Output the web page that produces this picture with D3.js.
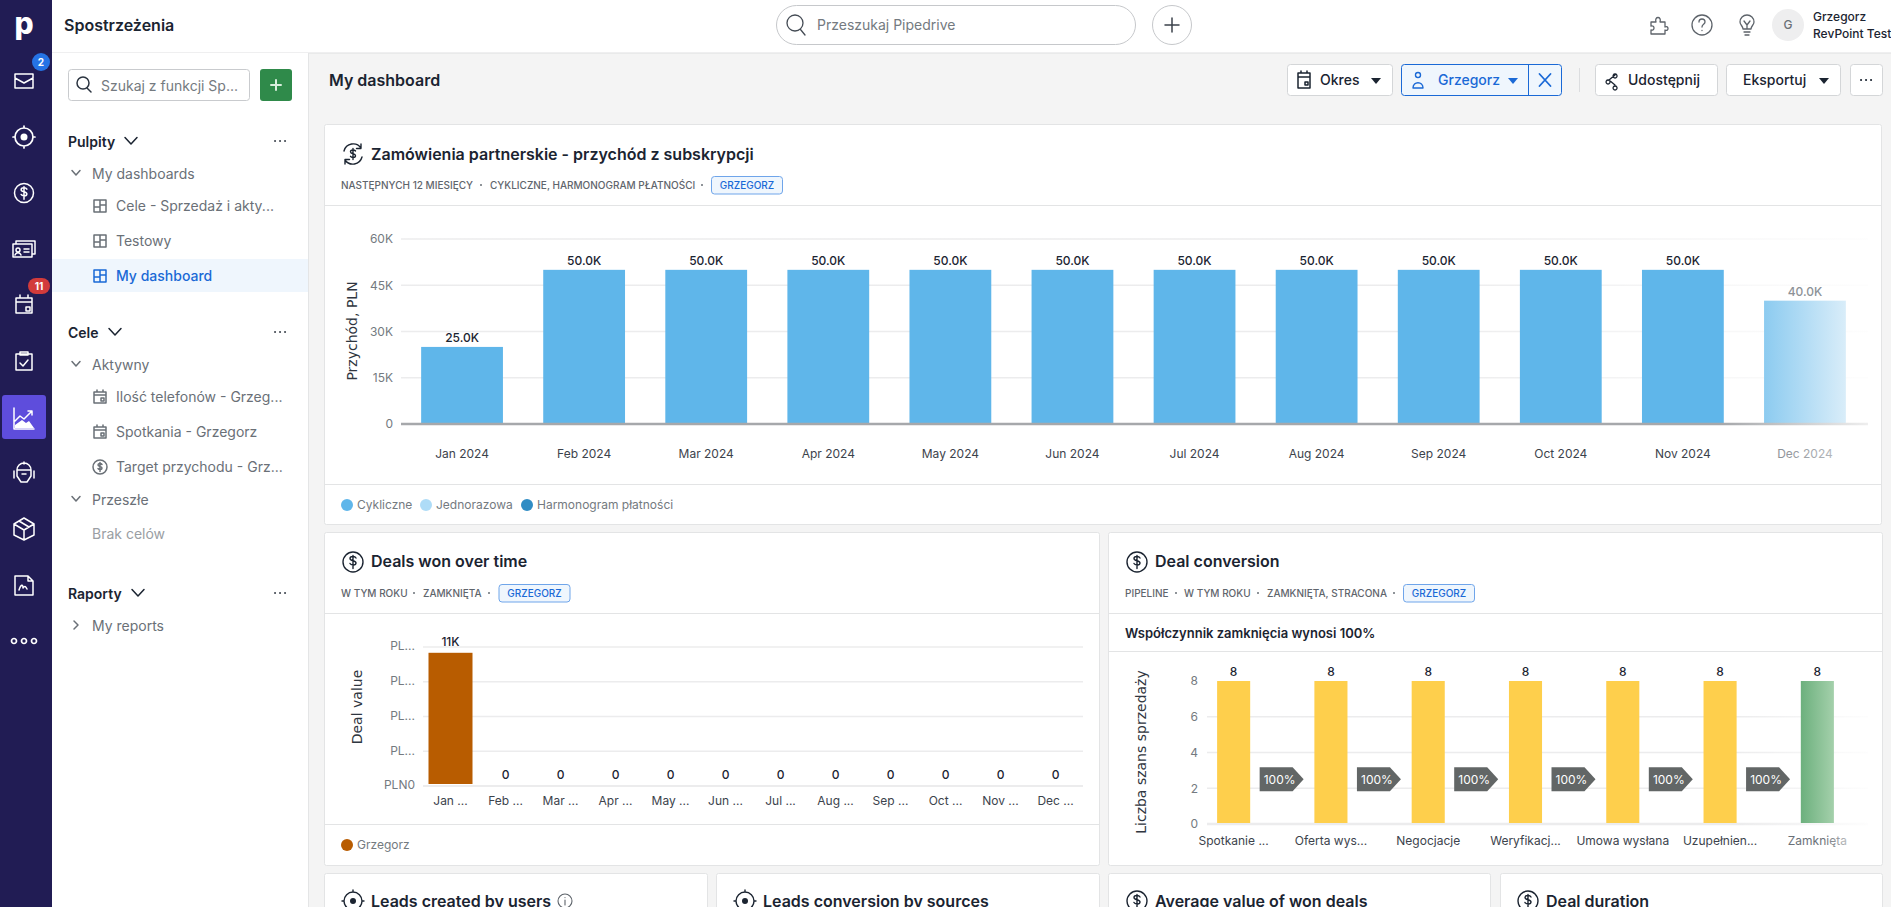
<!DOCTYPE html>
<html>
<head>
<meta charset="utf-8">
<script src="https://cdn.jsdelivr.net/npm/d3@7"></script>
<style>
  html, body { margin: 0; padding: 0; background: #f4f4f4; overflow: hidden; }
  svg { display: block; font-family: Inter, "Noto Sans", sans-serif; }
  .domain { display: none; }
  .tick line { display: none; }
</style>
</head>
<body>
<div id="root"></div>
<script>
// DATA
const revenueMonths = ['Jan 2024', 'Feb 2024', 'Mar 2024', 'Apr 2024', 'May 2024', 'Jun 2024', 'Jul 2024', 'Aug 2024', 'Sep 2024', 'Oct 2024', 'Nov 2024', 'Dec 2024'];
const revenueValues = [25000, 50000, 50000, 50000, 50000, 50000, 50000, 50000, 50000, 50000, 50000, 40000];
const revenueLabels = ['25.0K', '50.0K', '50.0K', '50.0K', '50.0K', '50.0K', '50.0K', '50.0K', '50.0K', '50.0K', '50.0K', '40.0K'];
const revenueTicks = [0, 15000, 30000, 45000, 60000];
const revenueTickLabels = ['0', '15K', '30K', '45K', '60K'];
const revenueLegend = ['Cykliczne', 'Jednorazowa', 'Harmonogram płatności'];

const dealMonths = ['Jan ...', 'Feb ...', 'Mar ...', 'Apr ...', 'May ...', 'Jun ...', 'Jul ...', 'Aug ...', 'Sep ...', 'Oct ...', 'Nov ...', 'Dec ...'];
const dealValues = [11500, 0, 0, 0, 0, 0, 0, 0, 0, 0, 0, 0];
const dealLabels = ['11K', '0', '0', '0', '0', '0', '0', '0', '0', '0', '0', '0'];
const dealTicks = [0, 3000, 6000, 9000, 12000];
const dealTickLabels = ['PLN0', 'PL...', 'PL...', 'PL...', 'PL...'];

const stages = ['Spotkanie ...', 'Oferta wys...', 'Negocjacje', 'Weryfikacj...', 'Umowa wysłana', 'Uzupełnien...', 'Zamknięta'];
const stageValues = [8, 8, 8, 8, 8, 8, 8];
const stageRates = ['100%', '100%', '100%', '100%', '100%', '100%'];
const stageTicks = [0, 2, 4, 6, 8];

// COLORS
const ink = '#1b2431', gray = '#6a7077', tickGray = '#747a80', gridGray = '#ececed',
  blue = '#1a69d6', navy = '#211c54', barBlue = '#5fb6ea', border = '#e3e4e5';

let svg = d3.select('#root').append('svg').attr('width', 1891).attr('height', 907);
let defs = svg.append('defs');

function hGradient(id, stops, units) {
  let g = defs.append('linearGradient').attr('id', id);
  if (units) g.attr('gradientUnits', 'userSpaceOnUse').attr('x1', units[0]).attr('x2', units[1]).attr('y1', 0).attr('y2', 0);
  stops.forEach(s => g.append('stop').attr('offset', s[0]).attr('stop-color', s[1]).attr('stop-opacity', s[2] === undefined ? 1 : s[2]));
}
hGradient('decBar', [[0, '#8ccbf0'], [1, '#d9edf9']]);
hGradient('wonBar', [[0, '#6cb07d'], [1, '#a4d0ab']]);
hGradient('fadeLabel', [[0, '#8a8f95'], [1, '#b4b8bc']]);
hGradient('fadeZam', [[0, '#6a7077'], [0.6, '#6a7077'], [1, '#b8bbbe']]);
hGradient('fadeGrid', [[0, gridGray], [0.7, gridGray], [1, gridGray, 0.1]], [401, 1868]);
hGradient('fadeBase', [[0, '#a6a8ab'], [0.9, '#a6a8ab'], [1, '#eeeeee']], [401, 1868]);
hGradient('fadeGrid3', [[0, gridGray], [0.8, gridGray], [1, gridGray, 0.1]], [1207, 1868]);

function label(parent, x, y, str, size, color, weight, anchor) {
  return parent.append('text').attr('x', x).attr('y', y).attr('dy', '0.35em')
    .attr('font-size', size).attr('fill', color).attr('font-weight', weight || 400)
    .attr('text-anchor', anchor || 'start').text(str);
}

function box(parent, x0, y0, x1, y1, fill, stroke, r) {
  return parent.append('rect').attr('x', x0).attr('y', y0).attr('width', x1 - x0).attr('height', y1 - y0)
    .attr('fill', fill).attr('stroke', stroke || 'none').attr('rx', r || 0);
}

// little stroked icon, path written around 0,0
function icon(parent, x, y, d, color, sw) {
  return parent.append('path').attr('transform', `translate(${x},${y})`).attr('d', d)
    .attr('fill', 'none').attr('stroke', color).attr('stroke-width', sw || 1.5)
    .attr('stroke-linecap', 'round').attr('stroke-linejoin', 'round');
}

const chevDown = 'M-4,-2.5L0,2L4,-2.5', chevBig = 'M-6,-3.5L0,3L6,-3.5', chevRight = 'M-2,-4L2,0L-2,4';
const dollarIcon = 'M-10,0a10,10 0 1,0 20,0a10,10 0 1,0 -20,0M3,-4c-1,-2 -6,-2 -6,0.5c0,3 6,1.5 6,4.5c0,2.5 -5,2.5 -6,0.5M0,-6.5V6.5';
const targetIcon = 'M-9,0a9,9 0 1,0 18,0a9,9 0 1,0 -18,0M0,-11V-9M0,9V11M-11,0H-9M9,0H11';
const dashIcon = 'M-6,-6H6V6H-6ZM-6,1H0M0,-6V6M0,-1H6';
const calIcon = 'M-6,-5H6V6H-6ZM-6,-2H6M-3,-7V-5M3,-7V-5M1,1H4V4H1Z';
const smallDollar = 'M-7,0a7,7 0 1,0 14,0a7,7 0 1,0 -14,0M2,-2.5c-1,-1.5 -4,-1.5 -4,0.5c0,2 4,1 4,3c0,2 -3,2 -4,0.5M0,-4.5V4.5';
const dotsIcon = 'M-5,0h0.1M0,0h0.1M5,0h0.1';
const searchIcon = 'M-6,-1a6,6 0 1,0 12,0a6,6 0 1,0 -12,0M4,4L8,8';

// PAGE BACKGROUND + TOP BAR
box(svg, 0, 0, 1891, 907, '#f4f4f4');
box(svg, 52, 0, 1891, 53, '#ffffff');
svg.append('line').attr('x1', 52).attr('x2', 1891).attr('y1', 53).attr('y2', 53).attr('stroke', '#dedfe0');
box(svg, 52, 53, 308, 907, '#ffffff');
svg.append('line').attr('x1', 308.5).attr('x2', 308.5).attr('y1', 53).attr('y2', 907).attr('stroke', '#e4e5e6');

// LEFT NAV
box(svg, 0, 0, 52, 907, navy);
label(svg, 24, 23, 'p', 30, '#ffffff', 800, 'middle');
icon(svg, 24, 81, 'M-9,-7H9V7H-9ZM-9,-3L0,2L9,-3', '#fff');
icon(svg, 24, 137, targetIcon, '#fff').attr('stroke-width', 1.7);
svg.append('circle').attr('cx', 24).attr('cy', 137).attr('r', 3.5).attr('fill', '#fff');
icon(svg, 24, 193, dollarIcon, '#fff', 1.6).attr('transform', 'translate(24,193) scale(.95)');
icon(svg, 24, 249, 'M-11,-5H8V8H-11ZM-8,-5V-8H11V5H8M-8,1a2,2 0 1,0 4,0a2,2 0 1,0 -4,0M-9,6c1,-3 5,-3 6,0M0,0H5M0,3H5', '#fff');
icon(svg, 24, 304, 'M-8,-6H8V9H-8ZM-8,-2H8M-4,-9V-6M4,-9V-6M2,3H6V7H2Z', '#fff');
icon(svg, 24, 361, 'M-8,-7H8V9H-8ZM-4,-9H4V-6H-4ZM-4,2L-1,5L4,-1', '#fff');
box(svg, 2, 395, 46, 439, '#5e4ddc', 'none', 3);
icon(svg, 24, 417, 'M-10,-9V12H10M-9,4L-4,-1L0,2L8,-6M8,-6H4M8,-6V-2', '#fff', 1.5);
svg.append('path').attr('d', 'M15,428V425L22,420L26,423L29,421L34,428Z').attr('fill', '#fff');
icon(svg, 24, 473, 'M-7,-3a7,7 0 0,1 14,0V3L3,9H-3L-7,3ZM-10,-2V5M10,-2V5M-7,-3H7M-2,1H2M0,-11V-9', '#fff');
icon(svg, 24, 529, 'M0,-11L10,-5V6L0,11L-10,6V-5ZM-10,-5L0,1L10,-5M0,1V11M-5,-8L5,-2', '#fff');
icon(svg, 24, 585, 'M-9,-9H4L9,-4V10H-9ZM4,-9V-4H9M-5,5C-3,-1 -1,-1 -1,3C1,0 2,2 3,4', '#fff');
[-10, 0, 10].forEach(d => icon(svg, 24 + d, 641, 'M-2.5,0a2.5,2.5 0 1,0 5,0a2.5,2.5 0 1,0 -5,0', '#fff', 1.7));
svg.append('circle').attr('cx', 41).attr('cy', 62).attr('r', 9).attr('fill', '#2573e5');
label(svg, 41, 62, '2', 10, '#fff', 700, 'middle');
box(svg, 28, 278, 50, 294, '#d23b3b', 'none', 8);
label(svg, 39, 286, '11', 10, '#fff', 700, 'middle');

// SIDEBAR
label(svg, 64, 25.5, 'Spostrzeżenia', 16, ink, 600);
box(svg, 68.5, 69.5, 249.5, 100.5, '#fff', '#c9cbce', 3);
icon(svg, 83, 84, searchIcon, '#2b3440');
label(svg, 101, 86, 'Szukaj z funkcji Sp...', 14, tickGray);
box(svg, 260, 69, 292, 101, '#2f8a4a', 'none', 3);
icon(svg, 276, 85, 'M-5,0H5M0,-5V5', '#d9eedd', 2);

label(svg, 68, 142, 'Pulpity', 14, ink, 600);
icon(svg, 131, 141, chevBig, ink);
icon(svg, 280, 141, dotsIcon, '#444b54', 2);
icon(svg, 76, 173, chevDown, gray);
label(svg, 92, 174, 'My dashboards', 14, gray);
icon(svg, 100, 206, dashIcon, gray);
label(svg, 116, 206, 'Cele - Sprzedaż i akty...', 14, gray);
icon(svg, 100, 241, dashIcon, gray);
label(svg, 116, 241, 'Testowy', 14, gray);
box(svg, 52, 259, 308, 292, '#eff6fd');
icon(svg, 100, 276, dashIcon, blue);
label(svg, 116, 276, 'My dashboard', 14, blue, 500);

label(svg, 68, 333, 'Cele', 14, ink, 600);
icon(svg, 115, 332, chevBig, ink);
icon(svg, 280, 332, dotsIcon, '#444b54', 2);
icon(svg, 76, 364, chevDown, gray);
label(svg, 92, 365, 'Aktywny', 14, gray);
icon(svg, 100, 397, calIcon, gray);
label(svg, 116, 397, 'Ilość telefonów - Grzeg...', 14, gray);
icon(svg, 100, 432, calIcon, gray);
label(svg, 116, 432, 'Spotkania - Grzegorz', 14, gray);
icon(svg, 100, 467, smallDollar, gray);
label(svg, 116, 467, 'Target przychodu - Grz...', 14, gray);
icon(svg, 76, 499, chevDown, gray);
label(svg, 92, 500, 'Przeszłe', 14, gray);
label(svg, 92, 534, 'Brak celów', 14, '#9a9ea3');
label(svg, 68, 594, 'Raporty', 14, ink, 600);
icon(svg, 138, 593, chevBig, ink);
icon(svg, 280, 593, dotsIcon, '#444b54', 2);
icon(svg, 76, 625, chevRight, gray);
label(svg, 92, 626, 'My reports', 14, gray);

// TOP SEARCH + RIGHT ICONS
box(svg, 776.5, 5.5, 1135.5, 44.5, '#fff', '#c6c8cb', 20);
icon(svg, 795, 24, 'M-8,-1a8,8 0 1,0 16,0a8,8 0 1,0 -16,0M5.5,5.5L10,11', '#444b54', 1.3);
label(svg, 817, 25, 'Przeszukaj Pipedrive', 14, tickGray);
svg.append('circle').attr('cx', 1172).attr('cy', 25).attr('r', 19.5).attr('fill', '#fff').attr('stroke', '#c6c8cb');
icon(svg, 1172, 25, 'M-7,0H7M0,-7V7', '#3b424b', 1.5);
icon(svg, 1659, 25, 'M-8,-3H-3C-5,-9 3,-9 1,-3H6V2C10,0 10,7 6,5V9H-8V5C-4,6 -4,0 -8,1Z', '#5d636a', 1.3);
icon(svg, 1702, 25, 'M-10,0a10,10 0 1,0 20,0a10,10 0 1,0 -20,0M-3,-3c0,-4 6,-4 6,0c0,2.5 -3,2 -3,5M0,5.5v0.1', '#5d636a', 1.3);
icon(svg, 1747, 25, 'M-7,-3a7,7 0 1,1 14,0c0,3 -3,4 -3,7H-4c0,-3 -3,-4 -3,-7M-3,7H3M-2,10H2M-3,-4L0,0L3,-4M0,0V4', '#5d636a', 1.3);
svg.append('circle').attr('cx', 1788).attr('cy', 25).attr('r', 16).attr('fill', '#eeeeef');
label(svg, 1788, 25, 'G', 12, '#6a7077', 500, 'middle');
label(svg, 1813, 17, 'Grzegorz', 12, ink, 500);
label(svg, 1813, 34, 'RevPoint Test', 12, ink, 500);

// DASHBOARD HEADER
label(svg, 329, 80.5, 'My dashboard', 16, ink, 600);
box(svg, 1287.5, 64.5, 1392.5, 95.5, '#fff', '#d4d6d8', 3);
icon(svg, 1304, 80, 'M-6,-7H6V8H-6ZM-6,-3H6M-3,-9V-7M3,-9V-7M1,2H4V5H1Z', ink);
label(svg, 1320, 80.5, 'Okres', 14, ink, 500);
svg.append('path').attr('d', 'M1371,78H1381L1376,84Z').attr('fill', ink);
box(svg, 1401.5, 64.5, 1561.5, 95.5, '#eff6fd', blue, 3);
svg.append('line').attr('x1', 1528.5).attr('x2', 1528.5).attr('y1', 65).attr('y2', 95).attr('stroke', blue);
icon(svg, 1418, 80, 'M-2.5,-5a2.5,2.5 0 1,0 5,0a2.5,2.5 0 1,0 -5,0M-5,8C-5,1 5,1 5,8Z', blue, 1.4);
label(svg, 1438, 80.5, 'Grzegorz', 14, blue, 500);
svg.append('path').attr('d', 'M1508,78H1518L1513,84Z').attr('fill', blue);
icon(svg, 1545, 80, 'M-5.5,-6L5.5,6M5.5,-6L-5.5,6', blue, 1.8);
svg.append('line').attr('x1', 1579.5).attr('x2', 1579.5).attr('y1', 68).attr('y2', 92).attr('stroke', '#dcdddf');
box(svg, 1595.5, 64.5, 1717.5, 95.5, '#fff', '#d4d6d8', 3);
icon(svg, 1612, 80, 'M-4,0a2,2 0 1,0 0.1,0ZM3,-6a2,2 0 1,0 0.1,0ZM3,6a2,2 0 1,0 0.1,0ZM-3,0L3,-5M-3,0L3,5', ink, 1.3);
label(svg, 1628, 80.5, 'Udostępnij', 14, ink, 500);
box(svg, 1726.5, 64.5, 1840.5, 95.5, '#fff', '#d4d6d8', 3);
label(svg, 1743, 80.5, 'Eksportuj', 14, ink, 500);
svg.append('path').attr('d', 'M1819,78H1829L1824,84Z').attr('fill', ink);
box(svg, 1850.5, 64.5, 1882.5, 95.5, '#fff', '#d4d6d8', 3);
icon(svg, 1866, 80, dotsIcon, ink, 2);

// CARD FRAME + HEADER TEXT
function card(x0, y0, x1, y1) {
  box(svg, x0 + 0.5, y0 + 0.5, x1 - 0.5, y1 - 0.5, '#fff', border, 2);
}
function rule(x0, x1, y) {
  svg.append('line').attr('x1', x0).attr('x2', x1).attr('y1', y + 0.5).attr('y2', y + 0.5).attr('stroke', border);
}
function subtitle(y, items, dots, pillX) {
  items.forEach(it => label(svg, it[0], y, it[1], 10, '#5f656c', 500));
  dots.forEach(x => svg.append('circle').attr('cx', x).attr('cy', y - 0.5).attr('r', 1).attr('fill', '#6a7077'));
  box(svg, pillX + 0.5, y - 9, pillX + 71.5, y + 8.5, '#eff6fd', '#6fa5ea', 3);
  label(svg, pillX + 36, y, 'GRZEGORZ', 10, blue, 500, 'middle');
}

// CHART 1 - revenue
card(324, 124, 1882, 525);
icon(svg, 353, 154, 'M-9,-3A9.5,9.5 0 0,1 8,-6M9,3A9.5,9.5 0 0,1 -8,6M8,-10V-5.5H3.5M-8,10V5.5H-3.5M2.5,-3c-1,-1.5 -5,-1.5 -5,0.7c0,2.8 5,1.2 5,4c0,2.2 -4,2.2 -5,0.6M0,-5.5V5.5', ink, 1.4);
label(svg, 371, 154, 'Zamówienia partnerskie - przychód z subskrypcji', 16, ink, 600);
subtitle(185.5, [[341, 'NASTĘPNYCH 12 MIESIĘCY'], [490, 'CYKLICZNE, HARMONOGRAM PŁATNOŚCI']], [481, 702], 711);
rule(324, 1882, 205);
rule(324, 1882, 484);

let revX = d3.scaleBand().domain(revenueMonths).range([401, 1866]).paddingInner(0.33).paddingOuter(0.165);
let revY = d3.scaleLinear().domain([0, 60000]).range([424, 239]);

svg.append('g').selectAll('line').data(revenueTicks.slice(1)).enter().append('line')
  .attr('x1', 401).attr('x2', 1868).attr('y1', d => revY(d)).attr('y2', d => revY(d) + 0.01)
  .attr('stroke', 'url(#fadeGrid)').attr('stroke-width', 1.5);

svg.append('g').attr('transform', 'translate(393,0)')
  .call(d3.axisLeft(revY).tickValues(revenueTicks).tickSize(0).tickPadding(0).tickFormat((d, i) => revenueTickLabels[i]))
  .call(g => g.selectAll('text').attr('font-size', 12).attr('font-family', 'Inter').attr('fill', tickGray));

svg.append('g').selectAll('rect').data(revenueValues).enter().append('rect')
  .attr('x', (d, i) => revX(revenueMonths[i])).attr('width', revX.bandwidth())
  .attr('y', d => revY(d)).attr('height', d => revY(0) - revY(d))
  .attr('fill', (d, i) => i === 11 ? 'url(#decBar)' : barBlue);

svg.append('line').attr('x1', 401).attr('x2', 1868).attr('y1', 424).attr('y2', 424.01)
  .attr('stroke', 'url(#fadeBase)').attr('stroke-width', 2.5);

svg.append('g').selectAll('text').data(revenueLabels).enter().append('text')
  .attr('x', (d, i) => revX(revenueMonths[i]) + revX.bandwidth() / 2)
  .attr('y', (d, i) => revY(revenueValues[i]) - 9).attr('dy', '0.35em')
  .attr('text-anchor', 'middle').attr('font-size', 12).attr('font-weight', 500)
  .attr('fill', (d, i) => i === 11 ? '#8d9297' : ink).text(d => d);

svg.append('g').attr('transform', 'translate(0,449.5)')
  .call(d3.axisBottom(revX).tickSize(0).tickPadding(0))
  .call(g => g.selectAll('text').attr('font-size', 12).attr('font-family', 'Inter')
    .attr('fill', d => d === 'Dec 2024' ? 'url(#fadeLabel)' : '#3c434c'));

svg.append('text').attr('transform', 'translate(352,331) rotate(-90)').attr('text-anchor', 'middle').attr('dy', '0.35em')
  .attr('font-family', 'DejaVu Sans').attr('font-size', 14).attr('fill', '#2f3640').text('Przychód, PLN');

[[347, barBlue, 357], [426, '#aedcf7', 436], [527, '#2f8cc4', 537]].forEach((p, i) => {
  svg.append('circle').attr('cx', p[0]).attr('cy', 505).attr('r', 6).attr('fill', p[1]);
  label(svg, p[2], 505, revenueLegend[i], 12, tickGray);
});

// CHART 2 - deals won over time
card(324, 532, 1100, 866);
icon(svg, 353, 562, dollarIcon, ink, 1.4);
label(svg, 371, 561.5, 'Deals won over time', 16, ink, 600);
subtitle(593.5, [[341, 'W TYM ROKU'], [423, 'ZAMKNIĘTA']], [414, 489], 498.5);
rule(324, 1100, 613);
rule(324, 1100, 824);

let dealX = d3.scaleBand().domain(dealMonths).range([423, 1083]).paddingInner(0.2).paddingOuter(0.1);
let dealY = d3.scaleLinear().domain([0, 12000]).range([786, 647]);

svg.append('g').selectAll('line').data(dealTicks).enter().append('line')
  .attr('x1', 423).attr('x2', 1083).attr('y1', d => dealY(d)).attr('y2', d => dealY(d))
  .attr('stroke', gridGray).attr('stroke-width', d => d === 0 ? 2 : 1.5);

svg.append('g').attr('transform', 'translate(415,-1)')
  .call(d3.axisLeft(dealY).tickValues(dealTicks).tickSize(0).tickPadding(0).tickFormat((d, i) => dealTickLabels[i]))
  .call(g => g.selectAll('text').attr('font-size', 12).attr('font-family', 'Inter').attr('fill', tickGray));

svg.append('g').selectAll('rect').data(dealValues).enter().append('rect')
  .attr('x', (d, i) => dealX(dealMonths[i])).attr('width', dealX.bandwidth())
  .attr('y', d => dealY(d)).attr('height', d => Math.max(0, dealY(0) - 2 - dealY(d)))
  .attr('fill', '#b85c00');

svg.append('g').selectAll('text').data(dealLabels).enter().append('text')
  .attr('x', (d, i) => dealX(dealMonths[i]) + dealX.bandwidth() / 2)
  .attr('y', (d, i) => dealY(dealValues[i]) - 11).attr('dy', '0.35em')
  .attr('text-anchor', 'middle').attr('font-size', 12).attr('font-weight', 500).attr('fill', ink).text(d => d);

svg.append('g').attr('transform', 'translate(0,796)')
  .call(d3.axisBottom(dealX).tickSize(0).tickPadding(0))
  .call(g => g.selectAll('text').attr('font-size', 12).attr('font-family', 'Inter').attr('fill', '#3c434c'));

svg.append('text').attr('transform', 'translate(357,707) rotate(-90)').attr('text-anchor', 'middle').attr('dy', '0.35em')
  .attr('font-family', 'DejaVu Sans').attr('font-size', 14).attr('fill', '#2f3640').text('Deal value');

svg.append('circle').attr('cx', 347).attr('cy', 845).attr('r', 6).attr('fill', '#b85c00');
label(svg, 357, 845, 'Grzegorz', 12, tickGray);

// CHART 3 - deal conversion
card(1108, 532, 1883, 866);
icon(svg, 1137, 562, dollarIcon, ink, 1.4);
label(svg, 1155, 561.5, 'Deal conversion', 16, ink, 600);
subtitle(593.5, [[1125, 'PIPELINE'], [1184, 'W TYM ROKU'], [1267, 'ZAMKNIĘTA, STRACONA']], [1176, 1258, 1394], 1403);
rule(1108, 1883, 613);
label(svg, 1125, 633, 'Współczynnik zamknięcia wynosi 100%', 13, ink, 600);
rule(1108, 1883, 651);

let stageX = d3.scaleBand().domain(stages).range([1185, 1866]).paddingInner(0.66).paddingOuter(0.33);
let stageY = d3.scaleLinear().domain([0, 8]).range([824, 681]);
let stageCenter = i => stageX(stages[i]) + stageX.bandwidth() / 2;

svg.append('g').selectAll('line').data(stageTicks.slice(0, 4)).enter().append('line')
  .attr('x1', 1207).attr('x2', 1868).attr('y1', d => stageY(d)).attr('y2', d => stageY(d) + 0.01)
  .attr('stroke', 'url(#fadeGrid3)').attr('stroke-width', d => d === 0 ? 2.5 : 1.5);

svg.append('g').attr('transform', 'translate(1198,0)')
  .call(d3.axisLeft(stageY).tickValues(stageTicks).tickSize(0).tickPadding(0))
  .call(g => g.selectAll('text').attr('font-size', 12).attr('font-family', 'Inter').attr('fill', tickGray));

svg.append('g').selectAll('rect').data(stageValues).enter().append('rect')
  .attr('x', (d, i) => stageX(stages[i])).attr('width', stageX.bandwidth())
  .attr('y', d => stageY(d)).attr('height', d => stageY(0) - 1 - stageY(d))
  .attr('fill', (d, i) => i === 6 ? 'url(#wonBar)' : '#fecf4c');

svg.append('g').selectAll('text').data(stageValues).enter().append('text')
  .attr('x', (d, i) => stageCenter(i)).attr('y', d => stageY(d) - 9).attr('dy', '0.35em')
  .attr('text-anchor', 'middle').attr('font-size', 12).attr('font-weight', 500).attr('fill', ink).text(d => d);

// arrows between stages sit at a fixed height of 2.5 on the y scale
let arrows = svg.append('g').selectAll('g').data(stageRates).enter().append('g')
  .attr('transform', (d, i) => `translate(${stageCenter(i) + 26},${stageY(2.5)})`);
arrows.append('path').attr('d', 'M0,-12H33L44,0L33,12H0Z').attr('fill', '#626666');
arrows.append('text').attr('x', 20).attr('dy', '0.35em').attr('text-anchor', 'middle')
  .attr('font-size', 12).attr('font-weight', 400).attr('fill', '#fff').text(d => d);

svg.append('g').attr('transform', 'translate(0,836.5)')
  .call(d3.axisBottom(stageX).tickSize(0).tickPadding(0))
  .call(g => g.selectAll('text').attr('font-size', 12).attr('font-family', 'Inter')
    .attr('fill', d => d === 'Zamknięta' ? 'url(#fadeZam)' : '#3c434c'));

svg.append('text').attr('transform', 'translate(1141,752) rotate(-90)').attr('text-anchor', 'middle').attr('dy', '0.35em')
  .attr('font-family', 'DejaVu Sans').attr('font-size', 14).attr('fill', '#2f3640').text('Liczba szans sprzedaży');

// BOTTOM ROW (cut off by the window)
card(324, 873, 708, 930);
card(716, 873, 1100, 930);
card(1108, 873, 1491, 930);
card(1500, 873, 1883, 930);
icon(svg, 353, 901, targetIcon, ink, 1.4);
svg.append('circle').attr('cx', 353).attr('cy', 901).attr('r', 3).attr('fill', ink);
label(svg, 371, 901, 'Leads created by users', 16, ink, 600);
icon(svg, 565, 901, 'M-7,0a7,7 0 1,0 14,0a7,7 0 1,0 -14,0M0,-1V4M0,-3.5v0.1', '#5d636a', 1.1);
icon(svg, 745, 901, targetIcon, ink, 1.4);
svg.append('circle').attr('cx', 745).attr('cy', 901).attr('r', 3).attr('fill', ink);
label(svg, 763, 901, 'Leads conversion by sources', 16, ink, 600);
icon(svg, 1137, 901, dollarIcon, ink, 1.4);
label(svg, 1155, 901, 'Average value of won deals', 16, ink, 600);
icon(svg, 1528, 901, dollarIcon, ink, 1.4);
label(svg, 1546, 901, 'Deal duration', 16, ink, 600);
</script>
</body>
</html>
